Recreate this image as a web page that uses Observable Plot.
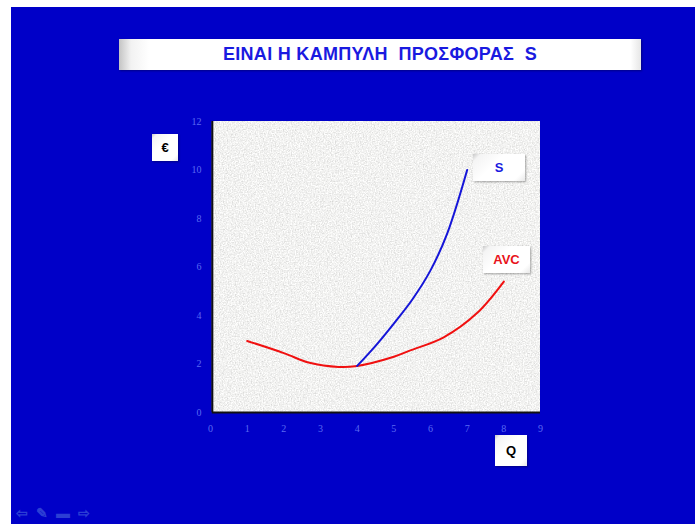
<!DOCTYPE html>
<html><head><meta charset="utf-8">
<script src="https://cdn.jsdelivr.net/npm/d3@7"></script>
<script src="https://cdn.jsdelivr.net/npm/@observablehq/plot@0.6"></script>
<style>
html,body{margin:0;padding:0;background:#fff;}
#stage{position:relative;width:695px;height:524px;overflow:hidden;background:#fff;font-family:Arial,"Liberation Sans",sans-serif;}
#bg{position:absolute;left:11px;top:7px;right:0;bottom:0;background:#0000c8;}
.box{position:absolute;background:linear-gradient(135deg,#c8c8c8 0%,#f4f4f4 10%,#ffffff 40%,#ffffff 85%,#e8e8e8 100%);box-shadow:1px 1px 2px rgba(0,0,0,0.35);display:flex;align-items:center;justify-content:center;font-weight:bold;}
#title{left:119px;top:39px;width:522px;height:31px;background:linear-gradient(90deg,#c4c4c4 0px,#f2f2f2 12px,#ffffff 30px,#ffffff 98%,#e6e6e6 100%);color:#1a1ae0;font-size:18px;letter-spacing:0.3px;}
#chart{position:absolute;left:150px;top:100px;}
#nav{position:absolute;left:16px;top:505px;color:#2c3ed4;font-size:14px;letter-spacing:8px;font-weight:bold;}
</style></head>
<body>
<div id="stage">
  <div id="bg"></div>
  <div class="box" id="title">ΕΙΝΑΙ Η ΚΑΜΠΥΛΗ&nbsp; ΠΡΟΣΦΟΡΑΣ&nbsp; S</div>
  <div id="chart"></div>
  <div class="box" style="left:152px;top:134px;width:26px;height:27px;color:#000;font-size:13px;">€</div>
  <div class="box" style="left:495px;top:435px;width:32px;height:31px;color:#000;font-size:13px;">Q</div>
  <div class="box" style="left:473px;top:154px;width:52px;height:27px;color:#1a1ae0;font-size:13px;">S</div>
  <div class="box" style="left:483px;top:246px;width:47px;height:27px;color:#e8141a;font-size:13px;">AVC</div>
  <div id="nav">⇦✎▬⇨</div>
</div>
<script>
const avcQ = [1, 2, 2.7, 3.5, 4, 5, 5.45, 6.36, 7.27, 8];
const avcC = [2.95, 2.45, 2.05, 1.88, 1.92, 2.3, 2.56, 3.1, 4.1, 5.4];
const sQ = [4, 4.5, 5, 5.5, 6, 6.46, 7];
const sP = [1.92, 2.75, 3.67, 4.65, 5.86, 7.4, 10];
const xTicks = [0,1,2,3,4,5,6,7,8,9];
const yTicks = [0,2,4,6,8,10,12];

const avc = avcQ.map((q,i)=>({q, v: avcC[i]}));
const s = sQ.map((q,i)=>({q, v: sP[i]}));

const tickColor = "#5a6af2";
const plot = Plot.plot({
  width: 420, height: 350,
  marginLeft: 60, marginRight: 30, marginTop: 21, marginBottom: 38,
  style: {background: "transparent", fontFamily: "'Liberation Serif','DejaVu Serif',serif", fontSize: "10px", color: tickColor},
  x: {domain: [0, 9], label: null},
  y: {domain: [0, 12], label: null},
  marks: [
    Plot.rect([{x1: 0.05, x2: 9, y1: 0, y2: 12}], {x1: "x1", x2: "x2", y1: "y1", y2: "y2", fill: "#e4e4e2", className: "paper"}),
    Plot.ruleX([0.05], {y1: 0, y2: 12, stroke: "#111", strokeWidth: 2}),
    Plot.ruleY([0], {x1: 0.05, x2: 9, stroke: "#111", strokeWidth: 2}),
    Plot.axisX(xTicks, {tickSize: 0, tickPadding: 12, fill: tickColor}),
    Plot.axisY(yTicks, {tickSize: 0, tickPadding: 9, fill: tickColor}),
    Plot.line(avc, {x: "q", y: "v", stroke: "#f01010", strokeWidth: 2, curve: "catmull-rom"}),
    Plot.line(s, {x: "q", y: "v", stroke: "#1515d8", strokeWidth: 2, curve: "catmull-rom"})
  ]
});
// paper-like grain on the plot background
const svg = d3.select(plot);
const defs = svg.insert("defs", ":first-child");
const f = defs.append("filter").attr("id", "grain").attr("x", 0).attr("y", 0).attr("width", "100%").attr("height", "100%");
f.append("feTurbulence").attr("type", "fractalNoise").attr("baseFrequency", 0.75).attr("numOctaves", 3).attr("seed", 4).attr("result", "n");
f.append("feColorMatrix").attr("in", "n").attr("type", "matrix")
  .attr("values", "0.55 0 0 0 0.61  0.55 0 0 0 0.61  0.55 0 0 0 0.60  0 0 0 0 1").attr("result", "g");
f.append("feComposite").attr("in", "g").attr("in2", "SourceGraphic").attr("operator", "in");
svg.selectAll(".paper rect").attr("filter", "url(#grain)");
document.getElementById("chart").appendChild(plot);
</script>
</body></html>
